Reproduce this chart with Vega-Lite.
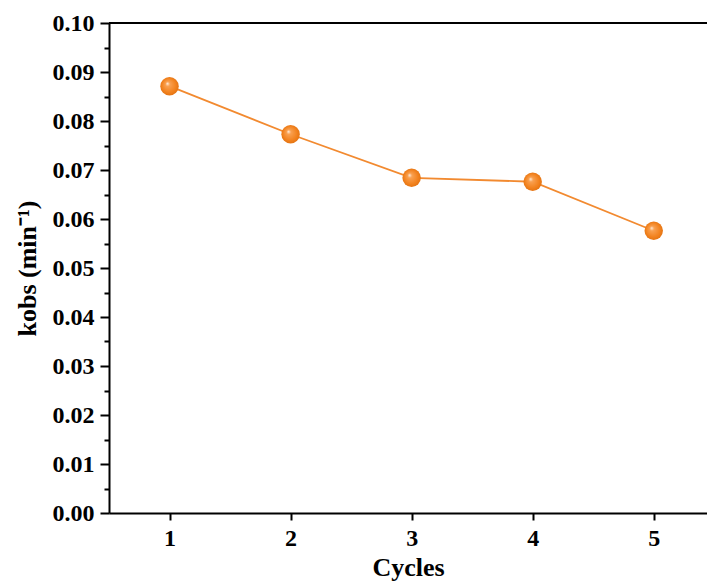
{
  "$schema": "https://vega.github.io/schema/vega-lite/v6.json",
  "autosize": {"type": "none"},
  "width": 598,
  "height": 490,
  "padding": {"left": 109, "top": 23, "right": 0, "bottom": 71},
  "background": "white",
  "config": {
    "view": {"stroke": null},
    "font": "Liberation Serif",
    "axis": {
      "labelFont": "Liberation Serif",
      "labelFontWeight": "bold",
      "labelFontSize": 24,
      "labelColor": "black",
      "titleFont": "Liberation Serif",
      "titleFontWeight": "bold",
      "titleFontSize": 26,
      "titleColor": "black",
      "domainColor": "black",
      "domainWidth": 2,
      "tickColor": "black",
      "tickWidth": 2,
      "grid": false
    }
  },
  "data": {
    "values": [
      {"cycle": 1, "k": 0.0871},
      {"cycle": 2, "k": 0.0773},
      {"cycle": 3, "k": 0.0684},
      {"cycle": 4, "k": 0.0676},
      {"cycle": 5, "k": 0.0576}
    ]
  },
  "layer": [
    {
      "mark": {"type": "line", "color": "#F28A30", "strokeWidth": 1.8},
      "encoding": {
        "x": {
          "field": "cycle", "type": "quantitative",
          "scale": {"domain": [0.5, 5.44], "nice": false, "zero": false},
          "axis": {"values": [1, 2, 3, 4, 5], "format": "d", "tickSize": 7, "labelPadding": 6, "title": "Cycles", "titlePadding": 4}
        },
        "y": {
          "field": "k", "type": "quantitative",
          "scale": {"domain": [0, 0.1], "nice": false},
          "axis": {"orient": "left", "values": [0, 0.01, 0.02, 0.03, 0.04, 0.05, 0.06, 0.07, 0.08, 0.09, 0.1], "format": ".2f", "tickSize": 9, "labelPadding": 6, "title": "kobs (min⁻¹)", "titlePadding": 12}
        }
      }
    },
    {
      "mark": {
        "type": "point", "filled": true, "size": 340, "opacity": 1,
        "fill": {
          "gradient": "radial",
          "x1": 0.38, "y1": 0.35, "r1": 0.0,
          "x2": 0.5, "y2": 0.5, "r2": 0.55,
          "stops": [
            {"offset": 0, "color": "#FFF3E6"},
            {"offset": 0.22, "color": "#F9A050"},
            {"offset": 0.7, "color": "#F2821E"},
            {"offset": 1, "color": "#E07010"}
          ]
        }
      },
      "encoding": {
        "x": {"field": "cycle", "type": "quantitative"},
        "y": {"field": "k", "type": "quantitative", "axis": null}
      }
    },
    {
      "mark": {"type": "tick", "opacity": 0},
      "encoding": {
        "y": {
          "field": "k", "type": "quantitative",
          "axis": {"orient": "left", "values": [0.005, 0.015, 0.025, 0.035, 0.045, 0.055, 0.065, 0.075, 0.085, 0.095], "labels": false, "domain": false, "tickSize": 5, "title": null}
        }
      }
    },
    {
      "mark": {"type": "rule", "color": "black", "strokeWidth": 2},
      "encoding": {"y": {"datum": 0.1, "type": "quantitative", "axis": null}}
    }
  ],
  "resolve": {"axis": {"y": "independent"}}
}
